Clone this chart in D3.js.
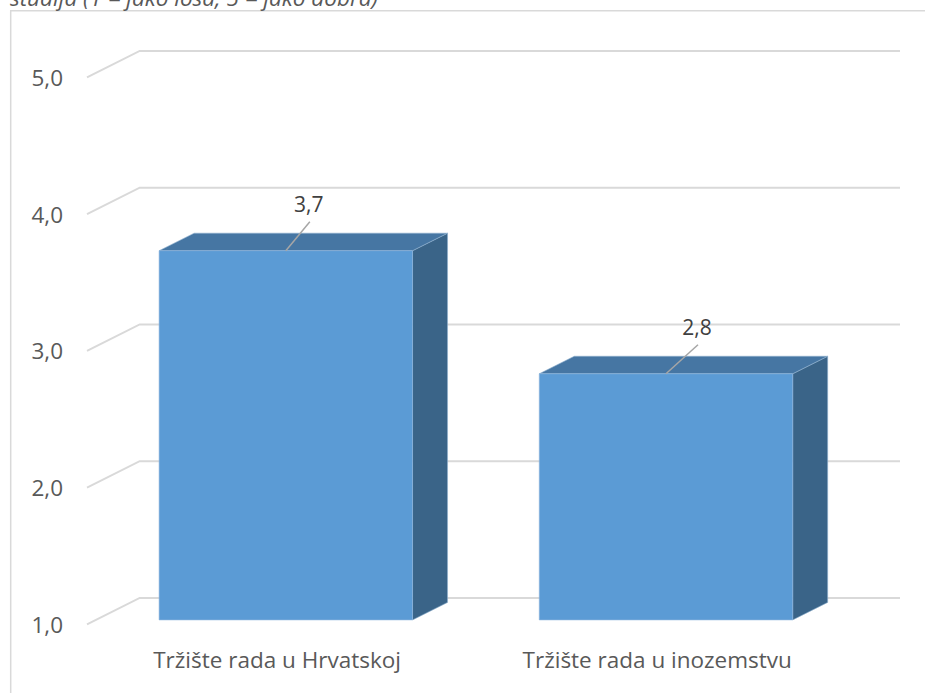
<!DOCTYPE html>
<html>
<head>
<meta charset="utf-8">
<script src="https://cdn.jsdelivr.net/npm/d3@7"></script>
<style>
  html, body { margin: 0; padding: 0; background: #ffffff; }
  svg { display: block; }
  text { font-family: "Open Sans", "Noto Sans", sans-serif; }
</style>
</head>
<body>
<svg id="chart" width="925" height="693"></svg>
<script>
// Average rating of the labour market (1 = very bad, 5 = very good)
const categories = ["Tržište rada u Hrvatskoj", "Tržište rada u inozemstvu"];
const values = [3.7, 2.8];
const yTicks = [1, 2, 3, 4, 5];
const titleLine = "studija (1 = jako loša, 5 = jako dobra)";

// label nudges (px) for the dragged data labels
const labelNudge = [24, 32];

const W = 925, H = 693;
const svg = d3.select("#chart");

// 3D geometry: front plane of the floor and the oblique depth vector
const front = { left: 87, right: 847.3, top: 77.3, bottom: 624.3 };
const depth = { dx: 52.7, dy: 26.4 };
const barDepth = [0.166, 0.83];   // fraction of the depth occupied by columns

const y = d3.scaleLinear().domain([1, 5]).range([front.bottom, front.top]);
const x = d3.scaleBand().domain(categories)
  .range([front.left, front.right])
  .paddingInner(1 / 3).paddingOuter(1 / 6);

// project a point in (x, value, depth fraction) onto the screen
const P = (px, v, d) => [px + d * depth.dx, y(v) - d * depth.dy];

// chart area border
svg.append("path")
  .attr("d", `M10.7,${H + 2} L10.7,10.7 L${W + 2},10.7`)
  .attr("fill", "none").attr("stroke", "#d9d9d9").attr("stroke-width", 1.5);

// title line (its upper part runs past the top of the view)
svg.append("text")
  .attr("x", 10).attr("y", 5.5)
  .attr("font-size", 22.5).attr("font-style", "italic")
  .attr("fill", "#595959")
  .text(titleLine);

// gridlines: side-wall diagonal plus back-wall horizontal
const grid = svg.append("g").attr("fill", "none")
  .attr("stroke", "#d9d9d9").attr("stroke-width", 2);
yTicks.forEach(t => {
  const a = P(front.left, t, 0), b = P(front.left, t, 1), c = P(front.right, t, 1);
  grid.append("path").attr("d", d3.line()([a, b, c]));
});

// y-axis labels
svg.append("g").selectAll("text").data(yTicks).join("text")
  .attr("x", 63).attr("y", d => y(d) + 2.5)
  .attr("text-anchor", "end").attr("dominant-baseline", "middle")
  .attr("font-size", 22.5).attr("fill", "#595959")
  .text(d => d3.format(".1f")(d).replace(".", ","));

// columns
const bw = x.bandwidth();
const bars = svg.append("g");
categories.forEach((c, i) => {
  const v = values[i];
  const x0 = x(c), x1 = x0 + bw;
  const [d0, d1] = barDepth;
  const ftl = P(x0, v, d0), ftr = P(x1, v, d0), fbr = P(x1, 1, d0), fbl = P(x0, 1, d0);
  const btl = P(x0, v, d1), btr = P(x1, v, d1), bbr = P(x1, 1, d1);
  const poly = pts => d3.line()(pts) + "Z";
  bars.append("path").attr("d", poly([ftr, btr, bbr, fbr]))
    .attr("fill", "#3a6488").attr("stroke", "#8fb0cf").attr("stroke-width", 0.6);
  bars.append("path").attr("d", poly([ftl, ftr, btr, btl]))
    .attr("fill", "#4676a3").attr("stroke", "#8fb0cf").attr("stroke-width", 0.6);
  bars.append("path").attr("d", poly([ftl, ftr, fbr, fbl]))
    .attr("fill", "#5b9bd5").attr("stroke", "#8fb5de").attr("stroke-width", 0.6);

  // data label with leader line
  const cx = (ftl[0] + ftr[0]) / 2, top = ftl[1];
  const n = labelNudge[i];
  bars.append("line")
    .attr("x1", cx).attr("y1", top)
    .attr("x2", cx + n).attr("y2", top - 29)
    .attr("stroke", "#a6a6a6").attr("stroke-width", 1.5);
  bars.append("text")
    .attr("x", cx + n - 1).attr("y", top - 38.5)
    .attr("text-anchor", "middle").attr("font-size", 21).attr("fill", "#404040")
    .text(d3.format(".1f")(v).replace(".", ","));
});

// category labels centred on the front floor edge
svg.append("g").selectAll("text").data(categories).join("text")
  .attr("x", d => x(d) + bw / 2).attr("y", 667.5)
  .attr("text-anchor", "middle")
  .attr("font-size", 22.5).attr("fill", "#595959")
  .text(d => d);
</script>
</body>
</html>
